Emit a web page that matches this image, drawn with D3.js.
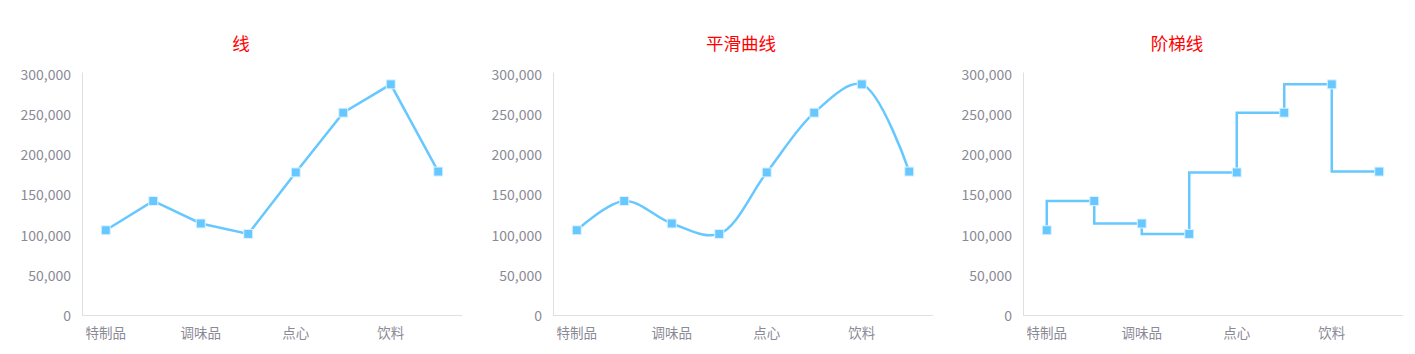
<!DOCTYPE html>
<html>

<head>
	<meta charset="utf-8">
	<script src="https://cdn.jsdelivr.net/npm/d3@7"></script>
	<style>
		body {
			margin: 0;
			background: #fff;
			font-family: "Noto Sans CJK SC", "Noto Sans", sans-serif;
		}
	</style>
</head>

<body>
	<svg></svg>
	<script>
		// data
		var categories = ["特制品", "海鲜", "调味品", "谷类/麦片", "点心", "日用品", "饮料", "肉/家禽"];
		var sales = [105268.6, 141623.09, 113694.75, 100726.8, 177099.1, 251330.5, 286526.95, 178188.8];
		var yTicks = [0, 50000, 100000, 150000, 200000, 250000, 300000];
		var titles = ["线", "平滑曲线", "阶梯线"];

		var width = 1415, height = 354;
		var panels = [
			{ left: 82, titleX: 241, curve: d3.curveLinear },
			{ left: 553, titleX: 741, curve: d3.curveCatmullRom.alpha(0.5) },
			{ left: 1023, titleX: 1177, curve: d3.curveStepBefore }
		];
		var plotW = 380, plotTop = 73.5, plotBottom = 315;
		var lineColor = "#66c8ff", textColor = "#8a8a96", axisColor = "#e0e0e0";

		var svg = d3.select('svg')
			.attr("width", width)
			.attr("height", height)

		var yAxis = d3.scaleLinear()
			.domain([0, 300000])
			.range([plotBottom, plotTop])
		var fmt = d3.format(",");

		panels.forEach((p, k) => {
			var g = svg.append("g").attr("transform", "translate(" + p.left + ",0)");
			var xAxis = d3.scalePoint()
				.domain(categories)
				.range([0, plotW])
				.padding(0.5)

			svg.append("text")
				.attr("x", p.titleX)
				.attr("y", 42)
				.attr("text-anchor", "middle")
				.attr("dominant-baseline", "central")
				.attr("fill", "#ff0000")
				.attr("font-size", 17.5)
				.text(titles[k]);

			// axis lines
			g.append("line")
				.attr("x1", 0.5).attr("x2", 0.5)
				.attr("y1", plotTop - 1).attr("y2", plotBottom)
				.attr("stroke", axisColor).attr("stroke-width", 1);
			g.append("line")
				.attr("x1", 0).attr("x2", plotW)
				.attr("y1", plotBottom + 0.5).attr("y2", plotBottom + 0.5)
				.attr("stroke", axisColor).attr("stroke-width", 1);

			g.selectAll(".ytick")
				.data(yTicks)
				.enter()
				.append("text")
				.attr("class", "ytick")
				.attr("x", -11)
				.attr("y", d => yAxis(d))
				.attr("text-anchor", "end")
				.attr("dominant-baseline", "central")
				.attr("fill", textColor)
				.attr("font-size", 14)
				.text(d => fmt(d));

			g.selectAll(".xtick")
				.data(categories.filter((d, i) => i % 2 == 0))
				.enter()
				.append("text")
				.attr("class", "xtick")
				.attr("x", d => xAxis(d))
				.attr("y", 332)
				.attr("text-anchor", "middle")
				.attr("dominant-baseline", "central")
				.attr("fill", textColor)
				.attr("font-size", 13.5)
				.text(d => d);

			var line = d3.line()
				.x((d, i) => xAxis(categories[i]))
				.y(d => yAxis(d))
				.curve(p.curve);

			g.append("path")
				.datum(sales)
				.attr("d", line)
				.attr("fill", "none")
				.attr("stroke", lineColor)
				.attr("stroke-width", 2.5);

			g.selectAll("rect")
				.data(sales)
				.enter()
				.append("rect")
				.attr("x", (d, i) => xAxis(categories[i]) - 4.5)
				.attr("y", d => yAxis(d) - 4.5)
				.attr("width", 9)
				.attr("height", 9)
				.attr("fill", lineColor)
				.attr("stroke", "#dff2ff")
				.attr("stroke-width", 1);
		});
	</script>
</body>

</html>
